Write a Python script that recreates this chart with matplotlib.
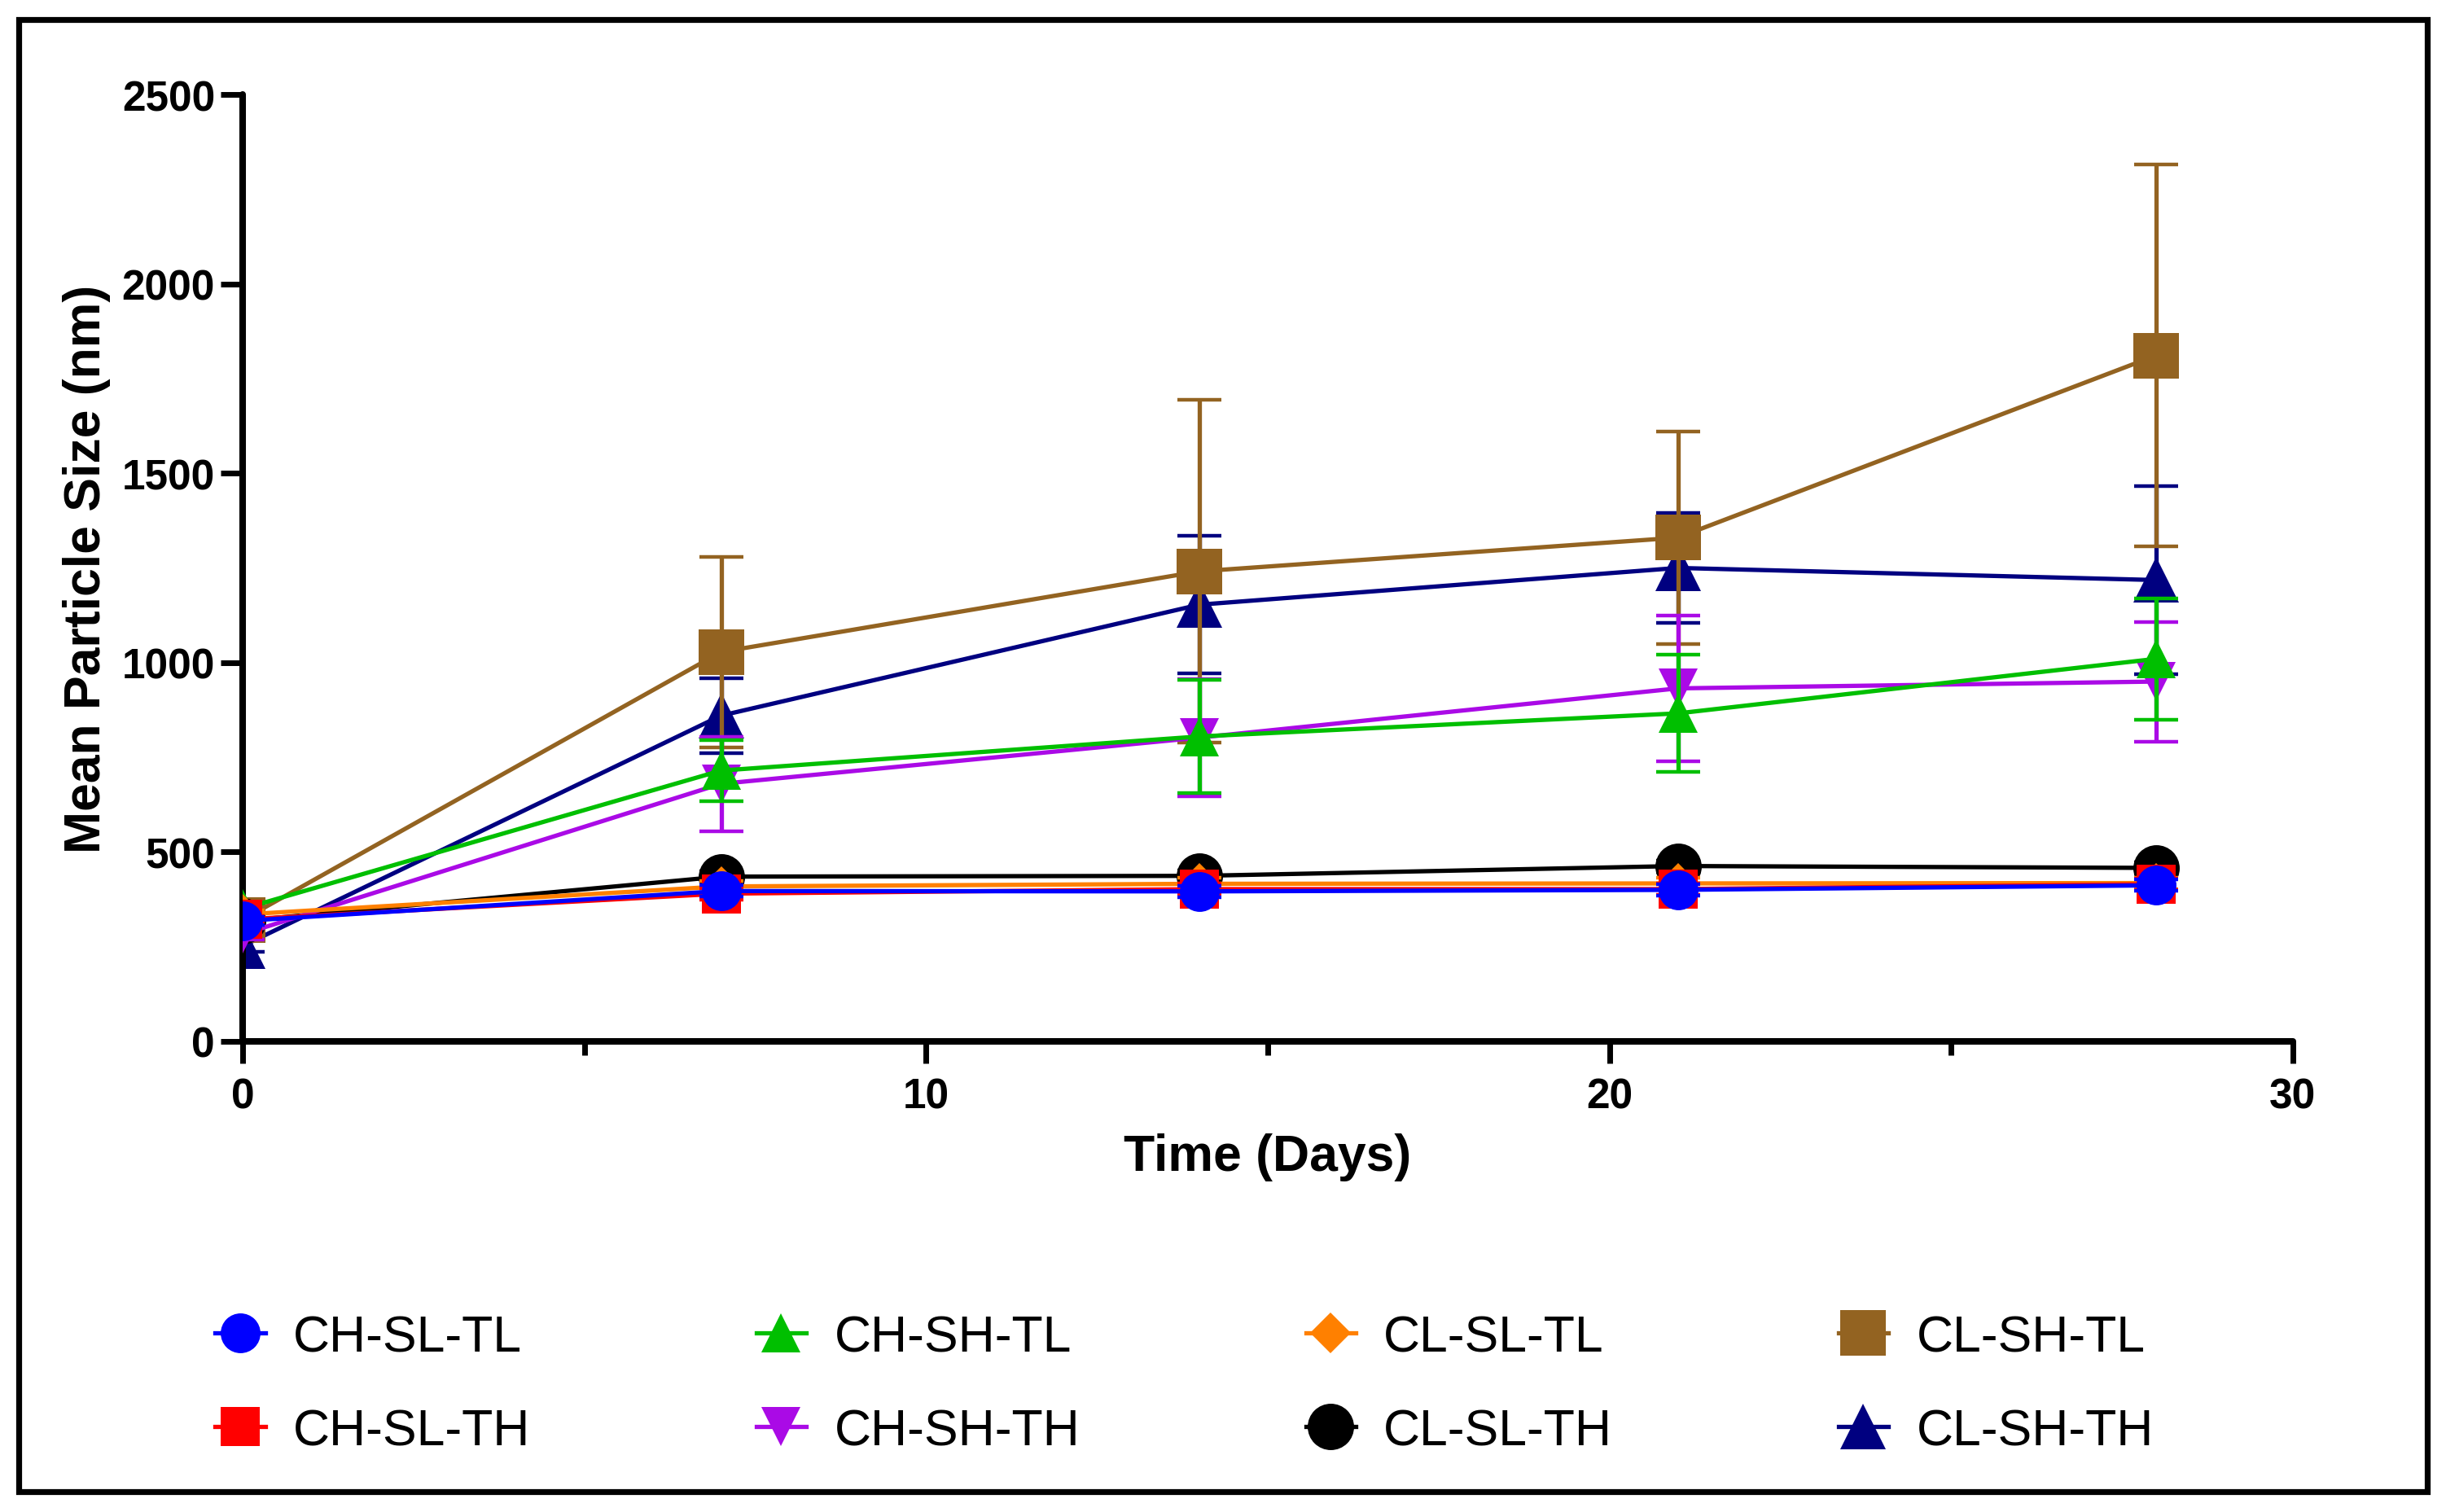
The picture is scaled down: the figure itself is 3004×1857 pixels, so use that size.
import matplotlib
matplotlib.use('Agg')
import matplotlib.pyplot as plt
from matplotlib.patches import Rectangle
from matplotlib.ticker import MultipleLocator

plt.rcParams['font.family'] = ['Liberation Sans', 'DejaVu Sans']

# sampling days
days = [0, 7, 14, 21, 28]

# mean particle size (nm) and error for each formulation
ch_sl_tl = [318, 397, 396, 400, 412]
ch_sl_tl_err = [10, 15, 15, 15, 15]
ch_sl_th = [322, 390, 402, 402, 415]
ch_sl_th_err = [10, 15, 15, 15, 15]
ch_sh_tl = [350, 715, 805, 866, 1010]
ch_sh_tl_err = [15, 80, 150, 155, 160]
ch_sh_th = [283, 680, 802, 932, 950]
ch_sh_th_err = [15, 125, 155, 192, 158]
cl_sl_tl = [335, 409, 416, 417, 418]
cl_sl_tl_err = [10, 15, 15, 15, 15]
cl_sl_th = [318, 435, 437, 463, 458]
cl_sl_th_err = [10, 15, 15, 15, 15]
cl_sh_tl = [321, 1028, 1241, 1330, 1811]
cl_sh_tl_err = [15, 252, 452, 280, 505]
cl_sh_th = [252, 860, 1153, 1250, 1218]
cl_sh_th_err = [15, 98, 181, 146, 248]

# draw order (last one ends up on top)
series = [
    ("CL-SH-TH", cl_sh_th, cl_sh_th_err, "#000080", "^", 20.5),
    ("CL-SH-TL", cl_sh_tl, cl_sh_tl_err, "#936321", "s", 20.5),
    ("CL-SL-TH", cl_sl_th, cl_sl_th_err, "#000000", "o", 20.5),
    ("CH-SH-TH", ch_sh_th, ch_sh_th_err, "#AA0AE6", "v", 17.6),
    ("CH-SH-TL", ch_sh_tl, ch_sh_tl_err, "#00BF00", "^", 17.6),
    ("CL-SL-TL", cl_sl_tl, cl_sl_tl_err, "#FF8000", "D", 12.5),
    ("CH-SL-TH", ch_sl_th, ch_sl_th_err, "#FF0000", "s", 17.6),
    ("CH-SL-TL", ch_sl_tl, ch_sl_tl_err, "#0000FF", "o", 17.6),
]

legend_order = ["CH-SL-TL", "CH-SL-TH", "CH-SH-TL", "CH-SH-TH",
                "CL-SL-TL", "CL-SL-TH", "CL-SH-TL", "CL-SH-TH"]

fig = plt.figure(figsize=(15.02, 9.29), dpi=200)
ax = fig.add_axes([0.0992, 0.3111, 0.8382, 0.6259])

handles = {}
z = 2
for name, vals, err, col, mk, ms in series:
    ax.errorbar(days, vals, yerr=err, fmt='none', ecolor=col, elinewidth=1.9,
                capsize=9.7, capthick=1.6, zorder=z)
    ln, = ax.plot(days, vals, color=col, lw=1.9, marker=mk, ms=ms,
                  mec=col, mew=0, zorder=z + 0.5, label=name)
    handles[name] = ln
    z += 1

ax.set_xlim(0, 30)
ax.set_ylim(0, 2500)
ax.xaxis.set_major_locator(MultipleLocator(10))
ax.xaxis.set_minor_locator(MultipleLocator(5))
ax.yaxis.set_major_locator(MultipleLocator(500))

for s in ['top', 'right']:
    ax.spines[s].set_visible(False)
for s in ['left', 'bottom']:
    ax.spines[s].set_linewidth(2.9)
    ax.spines[s].set_capstyle('round')

ax.tick_params(axis='both', which='major', length=9.7, width=2.5, labelsize=18.5)
ax.tick_params(axis='x', which='major', pad=6)
ax.tick_params(axis='y', which='major', pad=2.5)
ax.tick_params(axis='x', which='minor', length=6, width=2.5)
for lab in ax.get_xticklabels() + ax.get_yticklabels():
    lab.set_fontweight('bold')

ax.set_xlabel("Time (Days)", fontsize=22.5, fontweight='bold', labelpad=7)
ax.set_ylabel("Mean Particle Size (nm)", fontsize=22.5, fontweight='bold', labelpad=5)

fig.legend([handles[n] for n in legend_order], legend_order, ncol=4,
           loc='upper left', bbox_to_anchor=(0.088, 0.1313), frameon=False,
           fontsize=22.5, handlelength=0.98, handletextpad=0.55,
           columnspacing=4.44, labelspacing=0.9, borderpad=0, borderaxespad=0)

# outer frame round the whole picture
fig.patches.append(Rectangle((0.00766, 0.01346), 0.98464, 0.97308,
                             transform=fig.transFigure, fill=False,
                             lw=2.6, ec='black'))

fig.savefig("out.png", dpi=200)
